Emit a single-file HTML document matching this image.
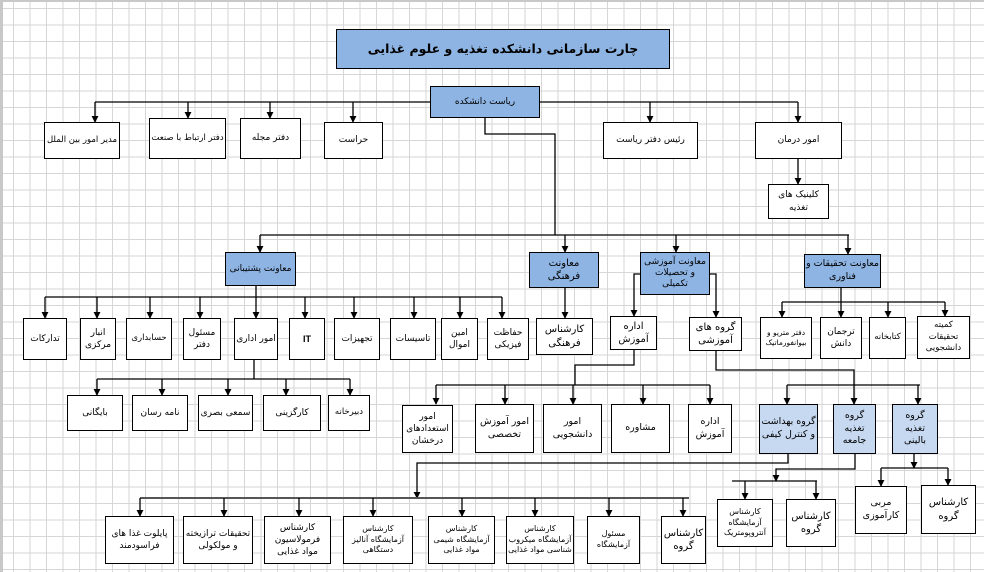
<!DOCTYPE html>
<html><head><meta charset="utf-8"><style>
body{margin:0;}
#c{position:relative;width:984px;height:572px;overflow:hidden;background-color:#fff;
background-image:linear-gradient(#d6d6d6 1px,transparent 1px),linear-gradient(90deg,#d6d6d6 1px,transparent 1px);
background-size:16.5px 16.5px;background-position:10px 6px;border-left:3px solid #c8c8c8;border-top:2px solid #c8c8c8;box-sizing:border-box;}
svg{position:absolute;left:0;top:0;}
.b{position:absolute;box-sizing:border-box;border:1.5px solid #000;background:#fff;display:flex;align-items:center;justify-content:center;text-align:center;direction:rtl;font-family:"DejaVu Sans","Liberation Sans",sans-serif;font-size:9px;line-height:1.35;color:#000;padding:1px;}
.h{background:#8eb4e3;}
.l{background:#c6d9f1;}
</style></head><body><div id="c">
<svg width="984" height="572" viewBox="0 0 984 572">
<defs>
<marker id="m" viewBox="0 0 8 8" markerWidth="7" markerHeight="7" refX="7" refY="4" orient="auto" markerUnits="userSpaceOnUse"><path d="M0,0 L8,4 L0,8 z" fill="#000"/></marker></defs>
<g stroke="#000" stroke-width="1.3" fill="none">
<path d="M92,100 H795"/>
<path d="M92,100 V120" marker-end="url(#m)"/><path d="M185,100 V116" marker-end="url(#m)"/><path d="M267,100 V116" marker-end="url(#m)"/><path d="M350,100 V120" marker-end="url(#m)"/><path d="M647,100 V120" marker-end="url(#m)"/><path d="M795,100 V120" marker-end="url(#m)"/>
<path d="M795,157 V182" marker-end="url(#m)"/>
<path d="M482,116 V132 H552 V233"/>
<path d="M257,233 H846"/>
<path d="M257,233 V250" marker-end="url(#m)"/><path d="M562,233 V250" marker-end="url(#m)"/><path d="M673,233 V250" marker-end="url(#m)"/><path d="M845,233 V252" marker-end="url(#m)"/>
<path d="M253,284 V295"/><path d="M42,295 H499"/>
<path d="M42,295 V316" marker-end="url(#m)"/><path d="M94,295 V316" marker-end="url(#m)"/><path d="M147,295 V316" marker-end="url(#m)"/><path d="M197,295 V316" marker-end="url(#m)"/><path d="M253,295 V316" marker-end="url(#m)"/><path d="M302,295 V316" marker-end="url(#m)"/><path d="M351,295 V316" marker-end="url(#m)"/><path d="M411,295 V316" marker-end="url(#m)"/><path d="M457,295 V316" marker-end="url(#m)"/><path d="M499,295 V316" marker-end="url(#m)"/>
<path d="M251,358 V377"/><path d="M94,377 H347"/>
<path d="M94,377 V393" marker-end="url(#m)"/><path d="M159,377 V393" marker-end="url(#m)"/><path d="M225,377 V393" marker-end="url(#m)"/><path d="M283,377 V393" marker-end="url(#m)"/><path d="M347,377 V393" marker-end="url(#m)"/>
<path d="M562,286 V316" marker-end="url(#m)"/>
<path d="M637,272 H631 V314" marker-end="url(#m)"/>
<path d="M707,272 H713 V315" marker-end="url(#m)"/>
<path d="M838,286 V300"/><path d="M779,300 H942"/>
<path d="M779,300 V315" marker-end="url(#m)"/><path d="M838,300 V315" marker-end="url(#m)"/><path d="M885,300 V315" marker-end="url(#m)"/><path d="M942,300 V314" marker-end="url(#m)"/>
<path d="M631,348 V363 H572 V383"/><path d="M433,383 H707"/>
<path d="M433,383 V402" marker-end="url(#m)"/><path d="M502,383 V402" marker-end="url(#m)"/><path d="M570,383 V402" marker-end="url(#m)"/><path d="M640,383 V402" marker-end="url(#m)"/><path d="M707,383 V402" marker-end="url(#m)"/>
<path d="M713,349 V368 H851 V383"/><path d="M784,383 H917"/>
<path d="M784,383 V402" marker-end="url(#m)"/><path d="M851,383 V402" marker-end="url(#m)"/><path d="M915,383 V402" marker-end="url(#m)"/>
<path d="M785,452 V461 H414 V496" marker-end="url(#m)"/>
<path d="M137,496 H686" stroke="#555" stroke-width="2"/>
<path d="M137,496 V514" marker-end="url(#m)"/><path d="M221,496 V514" marker-end="url(#m)"/><path d="M296,496 V514" marker-end="url(#m)"/><path d="M370,496 V514" marker-end="url(#m)"/><path d="M459,496 V514" marker-end="url(#m)"/><path d="M532,496 V514" marker-end="url(#m)"/><path d="M606,496 V514" marker-end="url(#m)"/><path d="M680,496 V514" marker-end="url(#m)"/>
<path d="M852,452 V467 H773 V479" marker-end="url(#m)"/><path d="M729,479 H814"/>
<path d="M742,479 V497" marker-end="url(#m)"/><path d="M813,479 V497" marker-end="url(#m)"/>
<path d="M911,452 V466" marker-end="url(#m)"/><path d="M878,466 H945"/>
<path d="M878,466 V484" marker-end="url(#m)"/><path d="M945,466 V483" marker-end="url(#m)"/>
</g></svg>

<div class="b h" style="left:333px;top:27px;width:334px;height:40px;font-size:12.5px;font-weight:bold;">چارت سازمانی دانشکده تغذیه و علوم غذایی</div>
<div class="b h" style="left:427px;top:84px;width:110px;height:32px;">ریاست دانشکده</div>
<div class="b" style="left:41px;top:120px;width:76px;height:37px;font-size:8.5px;">مدیر امور بین الملل</div>
<div class="b" style="left:146px;top:116px;width:77px;height:41px;font-size:8.5px;">دفتر ارتباط با صنعت</div>
<div class="b" style="left:237px;top:116px;width:61px;height:41px;">دفتر مجله</div>
<div class="b" style="left:321px;top:120px;width:59px;height:37px;">حراست</div>
<div class="b" style="left:600px;top:120px;width:95px;height:37px;">رئیس دفتر ریاست</div>
<div class="b" style="left:752px;top:120px;width:87px;height:37px;">امور درمان</div>
<div class="b" style="left:765px;top:182px;width:61px;height:35px;">کلینیک های تغذیه</div>

<div class="b h" style="left:222px;top:250px;width:71px;height:34px;">معاونت پشتیبانی</div>
<div class="b h" style="left:526px;top:250px;width:70px;height:36px;font-size:10px;">معاونت فرهنگی</div>
<div class="b h" style="left:637px;top:250px;width:70px;height:43px;font-size:9px;line-height:1.2;">معاونت آموزشی و تحصیلات تکمیلی</div>
<div class="b h" style="left:801px;top:252px;width:77px;height:34px;font-size:9.5px;">معاونت تحقیقات و فناوری</div>

<div class="b" style="left:20px;top:316px;width:44px;height:42px;">تدارکات</div>
<div class="b" style="left:77px;top:316px;width:36px;height:42px;">انبار مرکزی</div>
<div class="b" style="left:123px;top:316px;width:46px;height:42px;font-size:8.5px;">حسابداری</div>
<div class="b" style="left:180px;top:316px;width:38px;height:42px;">مسئول دفتر</div>
<div class="b" style="left:231px;top:316px;width:44px;height:42px;">امور اداری</div>
<div class="b" style="left:286px;top:316px;width:36px;height:42px;font-weight:bold;font-family:'Liberation Sans',sans-serif;">IT</div>
<div class="b" style="left:331px;top:316px;width:46px;height:42px;">تجهیزات</div>
<div class="b" style="left:387px;top:316px;width:46px;height:42px;">تاسیسات</div>
<div class="b" style="left:438px;top:316px;width:37px;height:42px;">امین اموال</div>
<div class="b" style="left:484px;top:316px;width:42px;height:42px;">حفاظت فیزیکی</div>
<div class="b" style="left:533px;top:316px;width:57px;height:37px;font-size:10px;">کارشناس فرهنگی</div>
<div class="b" style="left:607px;top:314px;width:47px;height:34px;font-size:10px;">اداره آموزش</div>
<div class="b" style="left:686px;top:315px;width:53px;height:34px;font-size:10px;">گروه های آموزشی</div>
<div class="b" style="left:757px;top:315px;width:52px;height:42px;font-size:7.5px;">دفتر متریو و بیوانفورماتیک</div>
<div class="b" style="left:817px;top:315px;width:42px;height:42px;">ترجمان دانش</div>
<div class="b" style="left:866px;top:315px;width:37px;height:42px;font-size:8.5px;">کتابخانه</div>
<div class="b" style="left:914px;top:314px;width:53px;height:43px;font-size:8.5px;">کمیته تحقیقات دانشجویی</div>

<div class="b" style="left:64px;top:393px;width:56px;height:36px;">بایگانی</div>
<div class="b" style="left:129px;top:393px;width:56px;height:36px;">نامه رسان</div>
<div class="b" style="left:195px;top:393px;width:55px;height:36px;">سمعی بصری</div>
<div class="b" style="left:260px;top:393px;width:58px;height:36px;">کارگزینی</div>
<div class="b" style="left:325px;top:393px;width:42px;height:36px;font-size:8.5px;">دبیرخانه</div>

<div class="b" style="left:399px;top:403px;width:51px;height:48px;font-size:9px;">امور استعدادهای درخشان</div>
<div class="b" style="left:472px;top:402px;width:59px;height:49px;font-size:9.5px;">امور آموزش تخصصی</div>
<div class="b" style="left:540px;top:402px;width:59px;height:49px;font-size:9.5px;">امور دانشجویی</div>
<div class="b" style="left:608px;top:402px;width:59px;height:49px;font-size:9.5px;">مشاوره</div>
<div class="b" style="left:685px;top:402px;width:44px;height:49px;font-size:9.5px;">اداره آموزش</div>
<div class="b l" style="left:756px;top:402px;width:59px;height:50px;font-size:9.5px;">گروه بهداشت و کنترل کیفی</div>
<div class="b l" style="left:830px;top:402px;width:43px;height:50px;font-size:9.5px;">گروه تغذیه جامعه</div>
<div class="b l" style="left:889px;top:402px;width:46px;height:50px;font-size:9.5px;">گروه تغذیه بالینی</div>

<div class="b" style="left:102px;top:514px;width:69px;height:48px;">پایلوت غذا های فراسودمند</div>
<div class="b" style="left:180px;top:514px;width:70px;height:48px;">تحقیقات ترازیخته و مولکولی</div>
<div class="b" style="left:261px;top:514px;width:67px;height:48px;">کارشناس فرمولاسیون مواد غذایی</div>
<div class="b" style="left:340px;top:514px;width:70px;height:48px;font-size:8px;">کارشناس آزمایشگاه آنالیز دستگاهی</div>
<div class="b" style="left:425px;top:514px;width:67px;height:48px;font-size:8px;">کارشناس آزمایشگاه شیمی مواد غذایی</div>
<div class="b" style="left:503px;top:514px;width:68px;height:48px;font-size:8px;">کارشناس آزمایشگاه میکروب شناسی مواد غذایی</div>
<div class="b" style="left:584px;top:514px;width:53px;height:48px;font-size:8px;">مسئول آزمایشگاه</div>
<div class="b" style="left:658px;top:514px;width:45px;height:48px;font-size:10px;">کارشناس گروه</div>
<div class="b" style="left:714px;top:497px;width:56px;height:48px;font-size:8px;">کارشناس آزمایشگاه آنتروپومتریک</div>
<div class="b" style="left:783px;top:497px;width:50px;height:48px;font-size:10px;">کارشناس گروه</div>
<div class="b" style="left:852px;top:484px;width:52px;height:48px;font-size:9.5px;">مربی کارآموزی</div>
<div class="b" style="left:918px;top:483px;width:55px;height:49px;font-size:10px;">کارشناس گروه</div>
</div></body></html>
